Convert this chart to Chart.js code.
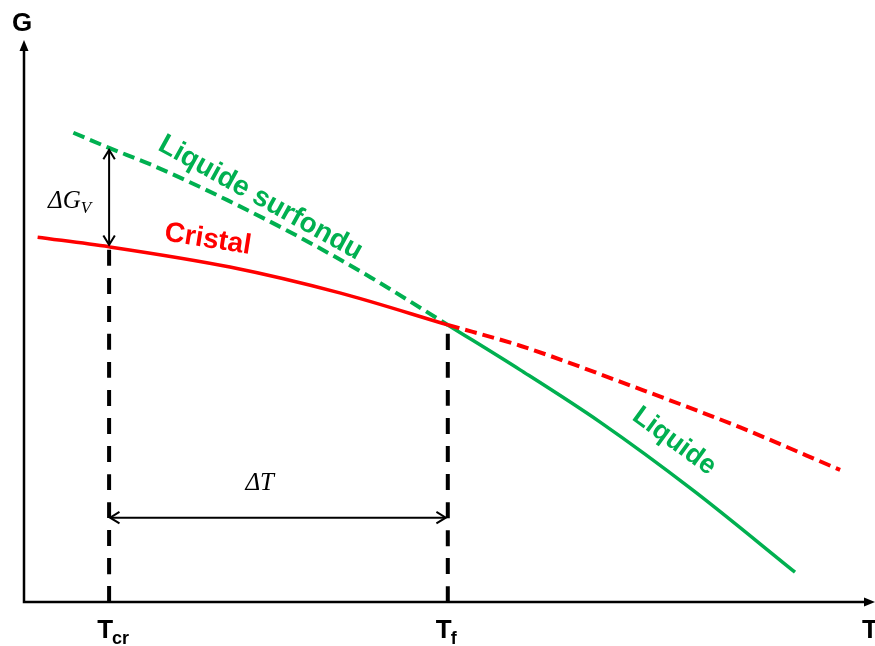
<!DOCTYPE html>
<html>
<head>
<meta charset="utf-8">
<script src="https://cdn.jsdelivr.net/npm/chart.js@4/dist/chart.umd.min.js"></script>
<style>
  html, body { margin: 0; padding: 0; background: #fff; }
  #wrap { width: 875px; height: 646px; }
</style>
</head>
<body>
<div id="wrap"><canvas id="c" width="875" height="646"></canvas></div>
<script>
// Free enthalpy G versus temperature T (arbitrary units)
const T_CR = 10;      // crystallisation temperature
const T_F = 49.8;     // melting temperature

// Crystal branch (stable below T_f)
const cristalT = [1.6, 10, 24.2, 37.1, 49.8];
const cristalG = [64.9, 63.2, 59.6, 55.0, 49.3];
// Crystal branch continued above T_f (metastable)
const cristalExtT = [49.8, 58.3, 72.7, 84.1, 95.9];
const cristalExtG = [49.3, 45.6, 37.7, 31.1, 23.5];
// Supercooled liquid (below T_f)
const surfonduT = [5.8, 10, 14.8, 23.9, 32.4, 40.7, 49.8];
const surfonduG = [83.5, 80.8, 77.9, 71.5, 64.9, 57.8, 49.3];
// Liquid (above T_f)
const liquideT = [49.8, 58.3, 67.7, 78.6, 90.6];
const liquideG = [49.3, 41.3, 32.0, 19.9, 5.3];

// Level of the ΔT arrow
const DELTA_T_LEVEL = 15;

const RED = '#FF0000';
const GREEN = '#00B050';

const zip = (xs, ys) => xs.map((x, i) => ({ x: x, y: ys[i] }));

const gCristalAtTcr = cristalG[cristalT.indexOf(T_CR)];
const gLiquideAtTcr = surfonduG[surfonduT.indexOf(T_CR)];
const gAtTf = cristalG[cristalG.length - 1];

function line(data, color, width, dash, tension) {
  return {
    data: data,
    showLine: true,
    borderColor: color,
    backgroundColor: color,
    borderWidth: width,
    borderDash: dash || [],
    pointRadius: 0,
    pointHoverRadius: 0,
    tension: tension === undefined ? 0.4 : tension,
    cubicInterpolationMode: 'monotone',
    clip: false,
    fill: false
  };
}

function arrowHead(ctx, x, y, angle, len, spread) {
  ctx.beginPath();
  ctx.moveTo(x + len * Math.cos(angle + spread), y + len * Math.sin(angle + spread));
  ctx.lineTo(x, y);
  ctx.lineTo(x + len * Math.cos(angle - spread), y + len * Math.sin(angle - spread));
  ctx.stroke();
}

function doubleArrow(ctx, x1, y1, x2, y2) {
  ctx.save();
  ctx.strokeStyle = '#000';
  ctx.lineWidth = 2;
  ctx.lineCap = 'butt';
  ctx.lineJoin = 'miter';
  ctx.beginPath();
  ctx.moveTo(x1, y1);
  ctx.lineTo(x2, y2);
  ctx.stroke();
  const a = Math.atan2(y2 - y1, x2 - x1);
  arrowHead(ctx, x1, y1, a, 11, 0.55);
  arrowHead(ctx, x2, y2, a + Math.PI, 11, 0.55);
  ctx.restore();
}

function rotatedText(ctx, text, x, y, angleDeg, color, font) {
  ctx.save();
  ctx.translate(x, y);
  ctx.rotate(angleDeg * Math.PI / 180);
  ctx.fillStyle = color;
  ctx.font = font;
  ctx.textAlign = 'center';
  ctx.textBaseline = 'middle';
  ctx.fillText(text, 0, 0);
  ctx.restore();
}

const decorations = {
  id: 'decorations',
  afterDatasetsDraw(chart) {
    const ctx = chart.ctx;
    const xs = chart.scales.x, ys = chart.scales.y;
    const px = v => xs.getPixelForValue(v);
    const py = v => ys.getPixelForValue(v);
    const left = px(0), bottom = py(0), top = py(100), right = px(100);

    // Axes with arrow tips
    ctx.save();
    ctx.strokeStyle = '#000';
    ctx.fillStyle = '#000';
    ctx.lineWidth = 2.5;
    ctx.beginPath();
    ctx.moveTo(left, bottom);
    ctx.lineTo(left, top + 8);
    ctx.moveTo(left - 1.25, bottom);
    ctx.lineTo(right - 8, bottom);
    ctx.stroke();
    ctx.beginPath();
    ctx.moveTo(left, top);
    ctx.lineTo(left - 4.5, top + 11);
    ctx.lineTo(left + 4.5, top + 11);
    ctx.closePath();
    ctx.fill();
    ctx.beginPath();
    ctx.moveTo(right, bottom);
    ctx.lineTo(right - 11, bottom - 4.5);
    ctx.lineTo(right - 11, bottom + 4.5);
    ctx.closePath();
    ctx.fill();
    ctx.restore();

    // Axis titles
    ctx.save();
    ctx.fillStyle = '#000';
    ctx.font = 'bold 26px "Liberation Sans", Arial, sans-serif';
    ctx.textBaseline = 'alphabetic';
    ctx.textAlign = 'center';
    ctx.fillText('G', left - 2, top - 9);
    ctx.textAlign = 'left';
    ctx.fillText('T', right - 13, bottom + 36);

    // Temperature labels under the axis
    const subLabel = (xv, main, sub) => {
      const x = px(xv);
      ctx.font = 'bold 26px "Liberation Sans", Arial, sans-serif';
      const w = ctx.measureText(main).width;
      ctx.textAlign = 'left';
      ctx.fillText(main, x - w / 2 - 4, bottom + 36);
      ctx.font = 'bold 18px "Liberation Sans", Arial, sans-serif';
      ctx.fillText(sub, x + w / 2 - 5, bottom + 42);
    };
    subLabel(T_CR, 'T', 'cr');
    subLabel(T_F, 'T', 'f');
    ctx.restore();

    // ΔG_V and ΔT arrows
    doubleArrow(ctx, px(T_CR), py(gLiquideAtTcr) + 2, px(T_CR), py(gCristalAtTcr) - 2);
    doubleArrow(ctx, px(T_CR) + 1, py(DELTA_T_LEVEL), px(T_F) - 2, py(DELTA_T_LEVEL));

    ctx.save();
    ctx.fillStyle = '#000';
    ctx.textBaseline = 'alphabetic';
    ctx.textAlign = 'left';
    ctx.font = 'italic 25px "Liberation Serif", "DejaVu Serif", serif';
    const gx = px(T_CR) - 61, gy = py((gLiquideAtTcr + gCristalAtTcr) / 2) + 11;
    ctx.fillText('\u0394G', gx, gy);
    const gw = ctx.measureText('\u0394G').width;
    ctx.font = 'italic 17px "Liberation Serif", "DejaVu Serif", serif';
    ctx.fillText('V', gx + gw, gy + 5);
    ctx.font = 'italic 25px "Liberation Serif", "DejaVu Serif", serif';
    ctx.textAlign = 'center';
    ctx.fillText('\u0394T', px(27.7), py(DELTA_T_LEVEL) - 28);
    ctx.restore();

    // Curve names
    rotatedText(ctx, 'Cristal', px(21.6), py(64.5), 9, RED, 'bold 28px "Liberation Sans", Arial, sans-serif');
    rotatedText(ctx, 'Liquide surfondu', px(27.8), py(71.9), 29, GREEN, 'bold 28px "Liberation Sans", Arial, sans-serif');
    rotatedText(ctx, 'Liquide', px(76.4), py(28.6), 36, GREEN, 'bold 27px "Liberation Sans", Arial, sans-serif');
  }
};

new Chart(document.getElementById('c'), {
  type: 'scatter',
  data: {
    datasets: [
      line(zip(cristalT, cristalG), RED, 3.5),
      line(zip(cristalExtT, cristalExtG), RED, 4, [12, 6]),
      line(zip(surfonduT, surfonduG), GREEN, 4, [12, 6]),
      line(zip(liquideT, liquideG), GREEN, 3.5),
      line([{ x: T_CR, y: 0 }, { x: T_CR, y: gCristalAtTcr }], '#000', 4, [16, 12], 0),
      line([{ x: T_F, y: 0 }, { x: T_F, y: gAtTf }], '#000', 4, [16, 12], 0)
    ]
  },
  options: {
    responsive: false,
    animation: false,
    devicePixelRatio: 1,
    layout: { padding: { left: 24, right: 0, top: 40, bottom: 44 } },
    plugins: { legend: { display: false }, tooltip: { enabled: false }, title: { display: false } },
    events: [],
    scales: {
      x: { type: 'linear', min: 0, max: 100, display: false },
      y: { type: 'linear', min: 0, max: 100, display: false }
    }
  },
  plugins: [decorations]
});
</script>
</body>
</html>
